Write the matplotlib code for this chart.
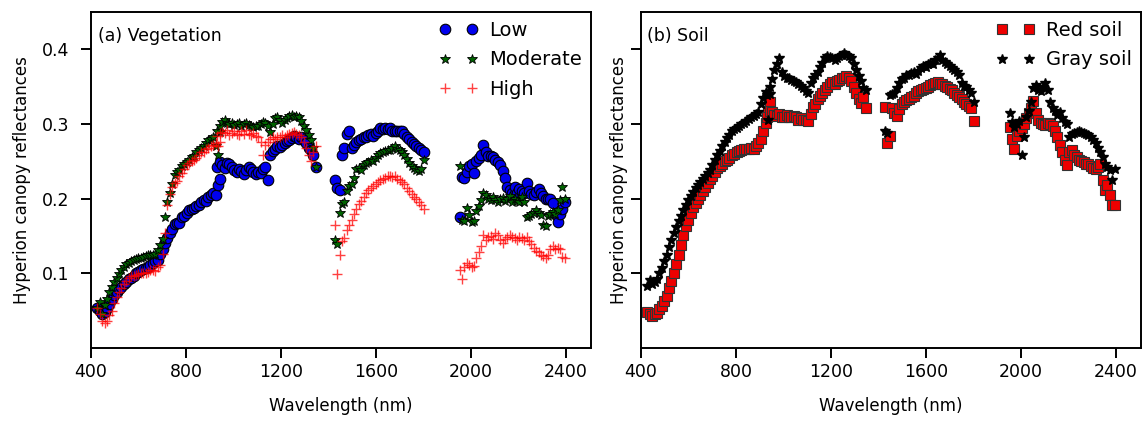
#! /usr/bin/env python
"""
plot.py
"""

import numpy as np
import matplotlib
matplotlib.use('Agg')
import matplotlib.pyplot as plt

# Hyperion band centres (nm), four usable segments
wavelength_nm = [
    # VNIR
    427, 437, 447, 457, 467, 477, 488, 498, 508, 518, 528, 538, 549, 559, 569,
    579, 589, 599, 610, 620, 630, 640, 650, 660, 671, 681, 691, 701, 711, 721,
    732, 742, 752, 762, 772, 782, 793, 803, 813, 823, 833, 843, 854, 864, 874,
    884, 894, 904, 915, 925, 935, 945,
    # SWIR 1
    932, 942, 952, 962, 972, 982, 992, 1002, 1013, 1023, 1033, 1043, 1053,
    1063, 1073, 1083, 1093, 1103, 1114, 1124, 1134, 1144, 1154, 1164, 1174,
    1184, 1194, 1205, 1215, 1225, 1235, 1245, 1255, 1265, 1275, 1285, 1295,
    1306, 1316, 1326, 1336, 1346,
    # SWIR 2
    1427, 1437, 1447, 1457, 1467, 1477, 1487, 1497, 1507, 1517, 1528, 1538,
    1548, 1558, 1568, 1578, 1588, 1598, 1608, 1618, 1629, 1639, 1649, 1659,
    1669, 1679, 1689, 1699, 1709, 1719, 1729, 1740, 1750, 1760, 1770, 1780,
    1790, 1800,
    # SWIR 3
    1952, 1962, 1972, 1982, 1992, 2002, 2012, 2022, 2032, 2042, 2052, 2062,
    2072, 2082, 2092, 2102, 2113, 2123, 2133, 2143, 2153, 2163, 2173, 2183,
    2193, 2203, 2213, 2224, 2234, 2244, 2254, 2264, 2274, 2284, 2294, 2304,
    2314, 2324, 2334, 2344, 2354, 2364, 2374, 2384, 2394,
]

veg_low = [
    .053, .050, .045, .048, .054, .059, .066, .071, .075, .079, .082, .086,
    .089, .092, .094, .097, .100, .102, .104, .106, .107, .109, .111, .114,
    .117, .118, .126, .133, .140, .147, .154, .160, .166, .168, .168, .176,
    .177, .181, .185, .186, .187, .190, .192, .195, .198, .197, .202, .205,
    .208, .205, .218, .226,
    .242, .249, .245, .241, .248, .246, .242, .238, .236, .240, .237, .233,
    .238, .243, .240, .236, .233, .236, .235, .240, .242, .225, .259, .264,
    .267, .271, .269, .272, .275, .277, .279, .281, .284, .282, .280, .282,
    .279, .274, .268, .265, .259, .243,
    .225, .214, .212, .259, .268, .286, .290, .268, .272, .276, .278, .280,
    .282, .283, .285, .286, .284, .288, .290, .294, .293, .295, .293, .294,
    .290, .291, .290, .291, .290, .287, .283, .280, .276, .273, .270, .268,
    .265, .262,
    .175, .229, .228, .236, .244, .247, .235, .250, .254, .258, .272, .262,
    .257, .257, .256, .252, .249, .245, .237, .228, .216, .212, .208, .215,
    .208, .213, .210, .207, .221, .210, .206, .205, .209, .213, .208, .203,
    .200, .199, .200, .194, .179, .169, .180, .186, .196,
]

veg_moderate = [
    .053, .061, .046, .058, .066, .075, .082, .088, .094, .099, .104, .108,
    .112, .114, .116, .118, .119, .120, .121, .122, .123, .124, .125, .125,
    .126, .131, .138, .146, .175, .196, .208, .220, .232, .236, .238, .244,
    .246, .249, .252, .256, .257, .262, .265, .268, .270, .275, .278, .280,
    .283, .270, .259, .289,
    .290, .298, .303, .305, .302, .300, .301, .299, .300, .301, .298, .300,
    .302, .299, .297, .296, .298, .297, .300, .303, .301, .297, .289, .300,
    .308, .309, .305, .302, .305, .308, .311, .312, .310, .311, .309, .304,
    .298, .292, .285, .278, .268, .242,
    .145, .139, .181, .193, .196, .210, .217, .220, .228, .240, .241, .239,
    .245, .248, .249, .252, .251, .255, .258, .261, .262, .264, .265, .265,
    .268, .271, .267, .265, .262, .258, .253, .248, .244, .241, .238, .237,
    .240, .252,
    .244, .171, .170, .188, .178, .169, .170, .183, .190, .198, .207, .205,
    .200, .198, .202, .198, .196, .199, .201, .197, .199, .203, .196, .200,
    .197, .195, .202, .195, .176, .177, .180, .181, .185, .181, .178, .165,
    .163, .177, .180, .182, .180, .185, .198, .215, .199,
]

veg_high = [
    .053, .046, .036, .034, .036, .044, .050, .060, .068, .075, .081, .086,
    .090, .094, .096, .097, .098, .099, .100, .101, .101, .102, .104, .104,
    .103, .108, .111, .126, .154, .192, .206, .215, .221, .224, .230, .235,
    .240, .245, .248, .251, .252, .255, .258, .262, .263, .266, .268, .270,
    .272, .275, .270, .276,
    .284, .288, .289, .288, .292, .285, .288, .291, .287, .285, .290, .286,
    .292, .287, .285, .288, .284, .282, .276, .259, .272, .276, .280, .283,
    .280, .282, .283, .285, .283, .285, .287, .288, .289, .287, .285, .283,
    .276, .268, .258, .250, .262, .270,
    .165, .099, .125, .143, .147, .158, .165, .172, .180, .186, .193, .197,
    .202, .207, .211, .214, .217, .219, .222, .225, .227, .228, .230, .231,
    .229, .230, .227, .225, .222, .219, .214, .210, .206, .202, .199, .196,
    .192, .186,
    .105, .093, .108, .114, .111, .108, .110, .120, .128, .136, .152, .145,
    .148, .150, .146, .154, .152, .145, .141, .146, .148, .151, .149, .147,
    .144, .149, .147, .145, .148, .143, .139, .134, .130, .128, .125, .123,
    .121, .124, .132, .136, .133, .134, .132, .122, .121,
]

soil_red = [
    .048, .046, .043, .046, .047, .052, .056, .063, .070, .080, .090, .101,
    .112, .125, .138, .152, .163, .172, .181, .189, .194, .200, .205, .210,
    .215, .221, .226, .231, .236, .241, .244, .247, .250, .252, .254, .258,
    .260, .262, .264, .265, .266, .267, .266, .268, .266, .271, .274, .280,
    .291, .302, .318, .330,
    .310, .318, .316, .312, .311, .313, .310, .309, .312, .310, .309, .311,
    .309, .306, .308, .306, .305, .304, .313, .323, .327, .333, .338, .341,
    .345, .350, .353, .356, .354, .357, .359, .361, .362, .364, .362, .358,
    .350, .342, .333, .328, .336, .321,
    .323, .275, .284, .322, .315, .311, .320, .327, .329, .332, .334, .336,
    .338, .342, .344, .346, .347, .348, .350, .352, .353, .355, .356, .354,
    .353, .351, .349, .347, .345, .342, .339, .336, .333, .330, .327, .324,
    .322, .304,
    .296, .280, .266, .284, .290, .294, .300, .308, .315, .322, .331, .315,
    .305, .302, .300, .299, .302, .300, .298, .290, .282, .272, .262, .252,
    .245, .262, .265, .258, .256, .252, .250, .249, .247, .246, .244, .241,
    .240, .242, .246, .225, .212, .218, .205, .191, .191,
]

soil_gray = [
    .083, .091, .086, .088, .093, .101, .107, .116, .125, .135, .145, .154,
    .162, .170, .177, .185, .191, .198, .204, .209, .214, .218, .222, .226,
    .230, .234, .239, .245, .252, .258, .264, .270, .276, .281, .285, .290,
    .293, .295, .298, .300, .302, .304, .307, .310, .311, .314, .316, .327,
    .335, .343, .305, .340,
    .339, .350, .360, .372, .380, .389, .370, .364, .362, .361, .359, .358,
    .356, .353, .351, .348, .344, .342, .355, .362, .366, .370, .377, .382,
    .388, .391, .390, .388, .386, .389, .391, .393, .395, .392, .391, .388,
    .381, .373, .364, .358, .348, .346,
    .290, .288, .339, .340, .342, .348, .355, .360, .362, .365, .366, .368,
    .369, .367, .371, .375, .378, .376, .380, .382, .381, .386, .389, .392,
    .386, .383, .381, .378, .375, .373, .370, .366, .355, .351, .349, .346,
    .342, .330,
    .315, .303, .296, .300, .304, .259, .283, .309, .318, .330, .348, .352,
    .346, .344, .350, .355, .345, .330, .322, .318, .312, .316, .308, .303,
    .300, .283, .286, .288, .289, .290, .289, .288, .286, .285, .282, .278,
    .275, .268, .262, .256, .246, .243, .238, .225, .240,
]


def _style_axis(ax, ypad, ylabelpad):
    for s in ax.spines.values():
        s.set_linewidth(1.4)
    ax.tick_params(direction='out', length=7, width=1.4, labelsize=12.5,
                   top=False, right=False)
    ax.tick_params(axis='y', pad=ypad)
    ax.set_xlim(400, 2505)
    ax.set_ylim(0, 0.45)
    ax.set_xticks([400, 800, 1200, 1600, 2000, 2400])
    ax.set_yticks([0.1, 0.2, 0.3, 0.4])
    ax.set_xlabel('Wavelength (nm)', fontsize=12, labelpad=12)
    ax.set_ylabel('Hyperion canopy reflectances', fontsize=12,
                  labelpad=ylabelpad)


wl = np.array(wavelength_nm)

fig = plt.figure(figsize=(11.45, 4.23), dpi=100)
ax1 = fig.add_axes([0.0795, 0.1773, 0.4367, 0.7943])
ax2 = fig.add_axes([0.5598, 0.1773, 0.4367, 0.7943])

ax1.plot(wl, veg_low, ls='none', marker='o', ms=7.6, mfc='#0000ee',
         mec='k', mew=0.8, label='Low')
ax1.plot(wl, veg_moderate, ls='none', marker='*', ms=7, mfc='#006400',
         mec='k', mew=0.6, label='Moderate')
ax1.plot(wl, veg_high, ls='none', marker='+', ms=7, color='red',
         mew=1.0, alpha=0.75, label='High')
_style_axis(ax1, 8.5, 8)
ax1.set_yticklabels(['0.1', '0.2', '0.3', '0.4'])
ax1.text(0.013, 0.93, '(a) Vegetation', transform=ax1.transAxes,
         fontsize=12.5, va='center')
ax1.legend(loc='upper right', numpoints=2, frameon=False, fontsize=14,
           borderaxespad=0.05, handletextpad=0.6, labelspacing=0.55)

ax2.plot(wl, soil_red, ls='none', marker='s', ms=6.8, mfc='#ee0000',
         mec='#333333', mew=0.8, label='Red soil')
ax2.plot(wl, soil_gray, ls='none', marker='*', ms=7, color='k',
         label='Gray soil')
_style_axis(ax2, 3.5, -1)
ax2.set_yticklabels([])
ax2.text(0.013, 0.93, '(b) Soil', transform=ax2.transAxes,
         fontsize=12.5, va='center')
ax2.legend(loc='upper right', numpoints=2, frameon=False, fontsize=14,
           borderaxespad=0.05, handletextpad=0.6, labelspacing=0.55)

fig.savefig('out.png', dpi=100)
plt.close(fig)
